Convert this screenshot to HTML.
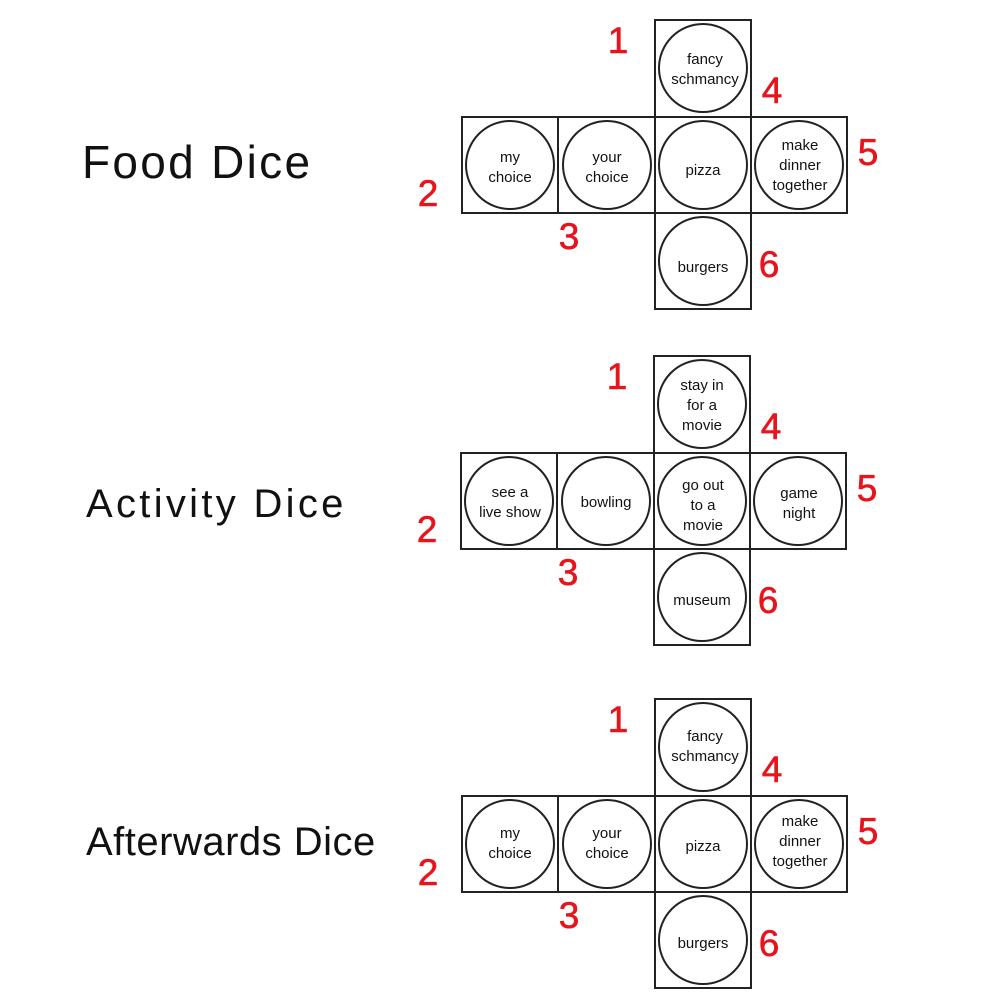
<!DOCTYPE html>
<html><head><style>body{margin:0;background:#fff}svg{display:block}</style></head><body>
<svg width="1000" height="1000" viewBox="0 0 1000 1000" xmlns="http://www.w3.org/2000/svg" font-family="Liberation Sans, DejaVu Sans, sans-serif">
<defs>
<g id="net" fill="none" stroke="#222" stroke-width="2">
<rect x="655" y="0" width="96" height="97"/>
<rect x="462" y="97" width="96" height="96"/>
<rect x="558" y="97" width="97" height="96"/>
<rect x="655" y="97" width="96" height="96"/>
<rect x="751" y="97" width="96" height="96"/>
<rect x="655" y="193" width="96" height="96"/>
<circle cx="703" cy="48" r="44"/>
<circle cx="510" cy="145" r="44"/>
<circle cx="607" cy="145" r="44"/>
<circle cx="703" cy="145" r="44"/>
<circle cx="799" cy="145" r="44"/>
<circle cx="703" cy="241" r="44"/>
</g>
<g id="nums" fill="#e8141c" font-size="37" text-anchor="middle" stroke="#e8141c" stroke-width="0.6">
<text x="618" y="33">1</text>
<text x="772" y="83">4</text>
<text x="868" y="145">5</text>
<text x="428" y="186">2</text>
<text x="569" y="229">3</text>
<text x="769" y="257">6</text>
</g>
</defs>
<g font-size="15" text-anchor="middle" fill="#111">
<g transform="translate(0,20)"><use href="#net"/><use href="#nums"/>
<text x="705" y="44">fancy</text><text x="705" y="64">schmancy</text>
<text x="510" y="142">my</text><text x="510" y="162">choice</text>
<text x="607" y="142">your</text><text x="607" y="162">choice</text>
<text x="703" y="155">pizza</text>
<text x="800" y="130">make</text><text x="800" y="150">dinner</text><text x="800" y="170">together</text>
<text x="703" y="252">burgers</text>
</g>
<text x="82" y="178" font-size="46" text-anchor="start" letter-spacing="2.3">Food Dice</text>
<g transform="translate(-1,356)"><use href="#net"/><use href="#nums"/>
<text x="703" y="34">stay in</text><text x="703" y="54">for a</text><text x="703" y="74">movie</text>
<text x="511" y="141">see a</text><text x="511" y="161">live show</text>
<text x="607" y="151">bowling</text>
<text x="704" y="134">go out</text><text x="704" y="154">to a</text><text x="704" y="174">movie</text>
<text x="800" y="142">game</text><text x="800" y="162">night</text>
<text x="703" y="249">museum</text>
</g>
<text x="86" y="517" font-size="40" text-anchor="start" letter-spacing="3.3">Activity Dice</text>
<g transform="translate(0,699)"><use href="#net"/><use href="#nums"/>
<text x="705" y="42">fancy</text><text x="705" y="62">schmancy</text>
<text x="510" y="139">my</text><text x="510" y="159">choice</text>
<text x="607" y="139">your</text><text x="607" y="159">choice</text>
<text x="703" y="152">pizza</text>
<text x="800" y="127">make</text><text x="800" y="147">dinner</text><text x="800" y="167">together</text>
<text x="703" y="249">burgers</text>
</g>
<text x="86" y="855" font-size="40" text-anchor="start" letter-spacing="0.5">Afterwards Dice</text>
</g>
</svg>
</body></html>
